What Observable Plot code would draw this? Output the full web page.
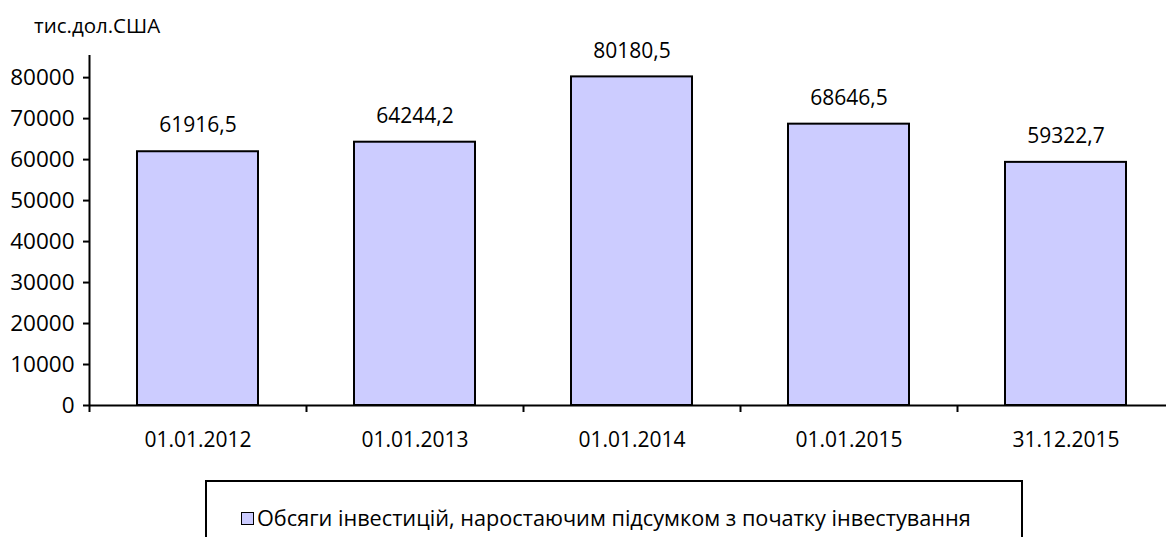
<!DOCTYPE html>
<html>
<head>
<meta charset="utf-8">
<script src="https://cdn.jsdelivr.net/npm/d3@7"></script>
<script src="https://cdn.jsdelivr.net/npm/@observablehq/plot@0.6"></script>
<style>
  html, body { margin: 0; padding: 0; background: white; }
  #wrap { position: relative; width: 1166px; height: 537px; overflow: hidden; font-family: "Open Sans", sans-serif; }
  #unit { position: absolute; left: 34px; top: 12px; font-size: 20.5px; line-height: 26px; color: #000; }
  #legend { position: absolute; left: 205px; top: 480px; width: 818px; height: 57px; border: 2px solid #000; border-bottom: none; box-sizing: border-box; background: white; }
  #legend .item { position: absolute; left: 34px; top: 22px; font-size: 21.7px; line-height: 28px; white-space: nowrap; display: flex; align-items: center; }
  #legend .sw { display: inline-block; width: 11px; height: 11px; background: #ccccff; border: 1.5px solid #000; margin-right: 3px; }
</style>
</head>
<body>
<div id="wrap">
  <div id="chart"></div>
  <div id="unit">тис.дол.США</div>
  <div id="legend"><div class="item"><span class="sw"></span><span id="legtext"></span></div></div>
</div>
<script>
const categories = ["01.01.2012", "01.01.2013", "01.01.2014", "01.01.2015", "31.12.2015"];
const values = [61916.5, 64244.2, 80180.5, 68646.5, 59322.7];
const yTicks = [0, 10000, 20000, 30000, 40000, 50000, 60000, 70000, 80000];
const seriesName = "Обсяги інвестицій, наростаючим підсумком з початку інвестування";
const unitLabel = "тис.дол.США";

const data = categories.map((c, i) => ({cat: c, value: values[i]}));
const fmt = v => v.toFixed(1).replace(".", ",");
const xRange = [89, 1174];
const step = (xRange[1] - xRange[0]) / categories.length;
const yMax = 85400;

const chart = Plot.plot({
  width: 1166,
  height: 537,
  marginLeft: 89,
  marginRight: 0,
  marginTop: 55,
  marginBottom: 132,
  style: {fontFamily: "Open Sans", fontSize: "21px", color: "black", background: "white"},
  x: {domain: categories, range: xRange, paddingInner: 0.442, paddingOuter: 0.221, axis: null},
  y: {domain: [0, yMax], axis: null},
  marks: [
    Plot.barY(data, {x: "cat", y: "value", fill: "#ccccff", stroke: "black", strokeWidth: 2}),
    Plot.ruleY([0], {stroke: "black", strokeWidth: 2}),
    Plot.ruleX([categories[0]], {x: d => d, y1: 0, y2: yMax, dx: -step / 2, stroke: "black", strokeWidth: 2}),
    Plot.ruleX(categories, {x: d => d, y1: 0, y2: 0, insetBottom: -7, dx: -step / 2, stroke: "black", strokeWidth: 2}),
    Plot.axisX({tickSize: 0, tickPadding: 27, fontSize: 21, label: null}),
    Plot.axisY(yTicks, {tickSize: 6, tickPadding: 9, tickFormat: d => String(d), fontSize: 22.5, strokeWidth: 2, label: null}),
    Plot.text(data, {x: "cat", y: "value", text: d => fmt(d.value), dy: -26, fontSize: 21})
  ]
});
document.getElementById("chart").appendChild(chart);
document.getElementById("legtext").textContent = seriesName;
document.getElementById("unit").textContent = unitLabel;
</script>
</body>
</html>
